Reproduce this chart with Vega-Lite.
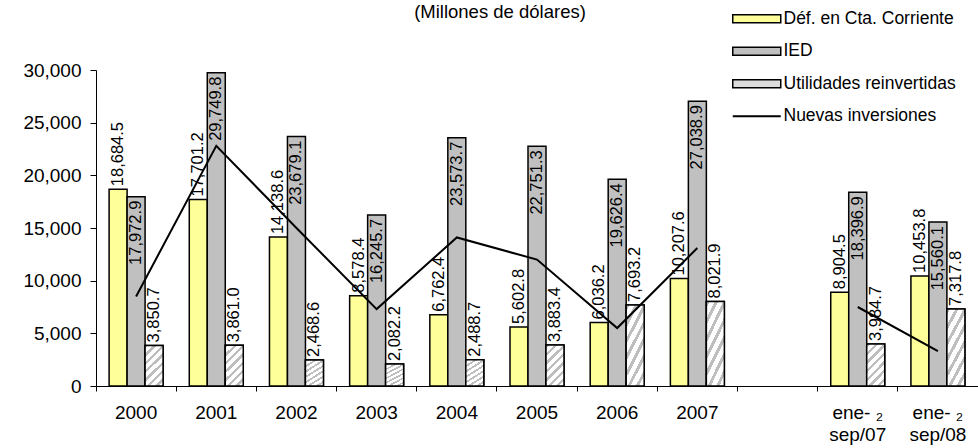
{
  "$schema": "https://vega.github.io/schema/vega-lite/v6.json",
  "width": 882,
  "height": 316,
  "autosize": {"type": "none"},
  "padding": {"left": 96, "top": 70, "right": 0, "bottom": 62},
  "background": "white",
  "config": {
    "font": "Liberation Sans",
    "view": {"stroke": null},
    "axis": {"domainColor": "black", "tickColor": "black", "labelColor": "black", "grid": false, "title": null, "labelFont": "Liberation Sans"}
  },
  "title": {
    "text": "(Millones de dólares)",
    "fontSize": 18.5,
    "fontWeight": "normal",
    "color": "black",
    "anchor": "middle",
    "frame": "group",
    "offset": -11,
    "dx": -37
  },
  "datasets": {
    "barras": [
      {"periodo": "2000", "serie": "Déf. en Cta. Corriente", "valor": 18684.5},
      {"periodo": "2000", "serie": "IED", "valor": 17972.9},
      {"periodo": "2000", "serie": "Utilidades reinvertidas", "valor": 3850.7},
      {"periodo": "2001", "serie": "Déf. en Cta. Corriente", "valor": 17701.2},
      {"periodo": "2001", "serie": "IED", "valor": 29749.8},
      {"periodo": "2001", "serie": "Utilidades reinvertidas", "valor": 3861.0},
      {"periodo": "2002", "serie": "Déf. en Cta. Corriente", "valor": 14138.6},
      {"periodo": "2002", "serie": "IED", "valor": 23679.1},
      {"periodo": "2002", "serie": "Utilidades reinvertidas", "valor": 2468.6},
      {"periodo": "2003", "serie": "Déf. en Cta. Corriente", "valor": 8578.4},
      {"periodo": "2003", "serie": "IED", "valor": 16245.7},
      {"periodo": "2003", "serie": "Utilidades reinvertidas", "valor": 2082.2},
      {"periodo": "2004", "serie": "Déf. en Cta. Corriente", "valor": 6762.4},
      {"periodo": "2004", "serie": "IED", "valor": 23573.7},
      {"periodo": "2004", "serie": "Utilidades reinvertidas", "valor": 2488.7},
      {"periodo": "2005", "serie": "Déf. en Cta. Corriente", "valor": 5602.8},
      {"periodo": "2005", "serie": "IED", "valor": 22751.3},
      {"periodo": "2005", "serie": "Utilidades reinvertidas", "valor": 3883.4},
      {"periodo": "2006", "serie": "Déf. en Cta. Corriente", "valor": 6036.2},
      {"periodo": "2006", "serie": "IED", "valor": 19626.4},
      {"periodo": "2006", "serie": "Utilidades reinvertidas", "valor": 7693.2},
      {"periodo": "2007", "serie": "Déf. en Cta. Corriente", "valor": 10207.6},
      {"periodo": "2007", "serie": "IED", "valor": 27038.9},
      {"periodo": "2007", "serie": "Utilidades reinvertidas", "valor": 8021.9},
      {"periodo": "ene-sep/07", "serie": "Déf. en Cta. Corriente", "valor": 8904.5},
      {"periodo": "ene-sep/07", "serie": "IED", "valor": 18396.9},
      {"periodo": "ene-sep/07", "serie": "Utilidades reinvertidas", "valor": 3984.7},
      {"periodo": "ene-sep/08", "serie": "Déf. en Cta. Corriente", "valor": 10453.8},
      {"periodo": "ene-sep/08", "serie": "IED", "valor": 15560.1},
      {"periodo": "ene-sep/08", "serie": "Utilidades reinvertidas", "valor": 7317.8}
    ],
    "lineas": [
      {"periodo": "2000", "tramo": "Anual", "valor": 8500},
      {"periodo": "2001", "tramo": "Anual", "valor": 22800},
      {"periodo": "2002", "tramo": "Anual", "valor": 15000},
      {"periodo": "2003", "tramo": "Anual", "valor": 7300},
      {"periodo": "2004", "tramo": "Anual", "valor": 14100},
      {"periodo": "2005", "tramo": "Anual", "valor": 12000},
      {"periodo": "2006", "tramo": "Anual", "valor": 5500},
      {"periodo": "2007", "tramo": "Anual", "valor": 13100},
      {"periodo": "ene-sep/07", "tramo": "Ene-sep", "valor": 7500},
      {"periodo": "ene-sep/08", "tramo": "Ene-sep", "valor": 3300}
    ]
  },
  "encoding": {
    "x": {
      "field": "periodo",
      "type": "nominal",
      "scale": {"domain": ["2000", "2001", "2002", "2003", "2004", "2005", "2006", "2007", " ", "ene-sep/07", "ene-sep/08"], "paddingInner": 0, "paddingOuter": 0},
      "axis": {
        "labelAngle": 0,
        "bandPosition": 0,
        "tickSize": 5,
        "labelFontSize": 19,
        "labelPadding": 12,
        "labelLineHeight": 22,
        "labelExpr": "indexof(datum.value, 'ene-sep') === 0 ? ['ene-  ₂', slice(datum.value, 4)] : datum.value"
      }
    },
    "y": {
      "field": "valor",
      "type": "quantitative",
      "scale": {"domain": [0, 30000], "nice": false},
      "axis": {"values": [0, 5000, 10000, 15000, 20000, 25000, 30000], "format": ",.0f", "tickSize": 6, "labelPadding": 9, "labelFontSize": 19}
    }
  },
  "layer": [
    {
      "data": {"name": "barras"},
      "mark": {"type": "bar", "stroke": "black", "strokeWidth": 1.5},
      "encoding": {
        "xOffset": {"field": "serie", "type": "nominal", "scale": {"domain": ["Déf. en Cta. Corriente", "IED", "Utilidades reinvertidas"], "paddingInner": 0, "paddingOuter": 0.728}},
        "color": {
          "field": "serie",
          "type": "nominal",
          "scale": {"domain": ["Déf. en Cta. Corriente", "IED", "Utilidades reinvertidas", "Nuevas inversiones"], "range": ["#FFFF99", "#C0C0C0", "#DCDCDC", "#000000"]},
          "legend": {
            "title": null,
            "orient": "none",
            "legendX": 652,
            "legendY": -60,
            "direction": "vertical",
            "labelFontSize": 17.5,
            "labelColor": "black",
            "labelOffset": 18,
            "labelLimit": 300,
            "symbolSize": 100,
            "rowPadding": 13.5,
            "symbolStrokeColor": "black",
            "symbolStrokeWidth": 1.5,
            "encode": {
              "symbols": {
                "update": {
                  "shape": {"signal": "datum.value === 'Nuevas inversiones' ? 'M-4.8,0H4.8' : 'M-4.8,-0.8H4.8V0.8H-4.8Z'"},
                  "fill": {"signal": "datum.value === 'Utilidades reinvertidas' ? {gradient: 'linear', x1: 0, y1: 0, x2: 1.135, y2: 0.19, stops: [{offset: 0, color: '#BEBEBE'}, {offset: 0.0571, color: '#BEBEBE'}, {offset: 0.0571, color: '#FFFFFF'}, {offset: 0.1429, color: '#FFFFFF'}, {offset: 0.1429, color: '#BEBEBE'}, {offset: 0.2, color: '#BEBEBE'}, {offset: 0.2, color: '#FFFFFF'}, {offset: 0.2857, color: '#FFFFFF'}, {offset: 0.2857, color: '#BEBEBE'}, {offset: 0.3429, color: '#BEBEBE'}, {offset: 0.3429, color: '#FFFFFF'}, {offset: 0.4286, color: '#FFFFFF'}, {offset: 0.4286, color: '#BEBEBE'}, {offset: 0.4857, color: '#BEBEBE'}, {offset: 0.4857, color: '#FFFFFF'}, {offset: 0.5714, color: '#FFFFFF'}, {offset: 0.5714, color: '#BEBEBE'}, {offset: 0.6286, color: '#BEBEBE'}, {offset: 0.6286, color: '#FFFFFF'}, {offset: 0.7143, color: '#FFFFFF'}, {offset: 0.7143, color: '#BEBEBE'}, {offset: 0.7714, color: '#BEBEBE'}, {offset: 0.7714, color: '#FFFFFF'}, {offset: 0.8571, color: '#FFFFFF'}, {offset: 0.8571, color: '#BEBEBE'}, {offset: 0.9143, color: '#BEBEBE'}, {offset: 0.9143, color: '#FFFFFF'}, {offset: 1, color: '#FFFFFF'}]} : datum.value === 'Nuevas inversiones' ? 'transparent' : scale('color', datum.value)"},
                  "stroke": {"value": "black"},
                  "strokeWidth": {"signal": "datum.value === 'Nuevas inversiones' ? 2 : 1.5"}
                }
              }
            }
          }
        }
      }
    },
    {
      "data": {"name": "barras"},
      "transform": [{"filter": "datum.serie === 'Utilidades reinvertidas'"}],
      "mark": {
        "type": "bar", "stroke": "black", "strokeWidth": 1.5,
        "fill": {
          "gradient": "linear", "x1": 0, "y1": 0, "x2": 0.525, "y2": 1.207,
          "stops": [
            {"offset": 0, "color": "#BEBEBE"}, {"offset": 0.0571, "color": "#BEBEBE"}, {"offset": 0.0571, "color": "#FFFFFF"}, {"offset": 0.1429, "color": "#FFFFFF"},
            {"offset": 0.1429, "color": "#BEBEBE"}, {"offset": 0.2, "color": "#BEBEBE"}, {"offset": 0.2, "color": "#FFFFFF"}, {"offset": 0.2857, "color": "#FFFFFF"},
            {"offset": 0.2857, "color": "#BEBEBE"}, {"offset": 0.3429, "color": "#BEBEBE"}, {"offset": 0.3429, "color": "#FFFFFF"}, {"offset": 0.4286, "color": "#FFFFFF"},
            {"offset": 0.4286, "color": "#BEBEBE"}, {"offset": 0.4857, "color": "#BEBEBE"}, {"offset": 0.4857, "color": "#FFFFFF"}, {"offset": 0.5714, "color": "#FFFFFF"},
            {"offset": 0.5714, "color": "#BEBEBE"}, {"offset": 0.6286, "color": "#BEBEBE"}, {"offset": 0.6286, "color": "#FFFFFF"}, {"offset": 0.7143, "color": "#FFFFFF"},
            {"offset": 0.7143, "color": "#BEBEBE"}, {"offset": 0.7714, "color": "#BEBEBE"}, {"offset": 0.7714, "color": "#FFFFFF"}, {"offset": 0.8571, "color": "#FFFFFF"},
            {"offset": 0.8571, "color": "#BEBEBE"}, {"offset": 0.9143, "color": "#BEBEBE"}, {"offset": 0.9143, "color": "#FFFFFF"}, {"offset": 1, "color": "#FFFFFF"}
          ]
        }
      },
      "encoding": {
        "xOffset": {"field": "serie", "type": "nominal", "scale": {"domain": ["Déf. en Cta. Corriente", "IED", "Utilidades reinvertidas"], "paddingInner": 0, "paddingOuter": 0.728}}
      }
    },
    {
      "data": {"name": "lineas"},
      "mark": {"type": "line", "color": "black", "strokeWidth": 2},
      "encoding": {
        "detail": {"field": "tramo", "type": "nominal"}
      }
    },
    {
      "data": {"name": "barras"},
      "transform": [{"filter": "datum.serie !== 'IED'"}],
      "mark": {"type": "text", "angle": 270, "align": "left", "baseline": "middle", "dx": 3, "fontSize": 16.5, "color": "black"},
      "encoding": {
        "xOffset": {"field": "serie", "type": "nominal", "scale": {"domain": ["Déf. en Cta. Corriente", "IED", "Utilidades reinvertidas"], "paddingInner": 0, "paddingOuter": 0.728}},
        "text": {"field": "valor", "type": "quantitative", "format": ",.1f"}
      }
    },
    {
      "data": {"name": "barras"},
      "transform": [{"filter": "datum.serie === 'IED'"}],
      "mark": {"type": "text", "angle": 270, "align": "right", "baseline": "middle", "dx": -4, "fontSize": 16.5, "color": "black"},
      "encoding": {
        "xOffset": {"field": "serie", "type": "nominal", "scale": {"domain": ["Déf. en Cta. Corriente", "IED", "Utilidades reinvertidas"], "paddingInner": 0, "paddingOuter": 0.728}},
        "text": {"field": "valor", "type": "quantitative", "format": ",.1f"}
      }
    }
  ]
}
